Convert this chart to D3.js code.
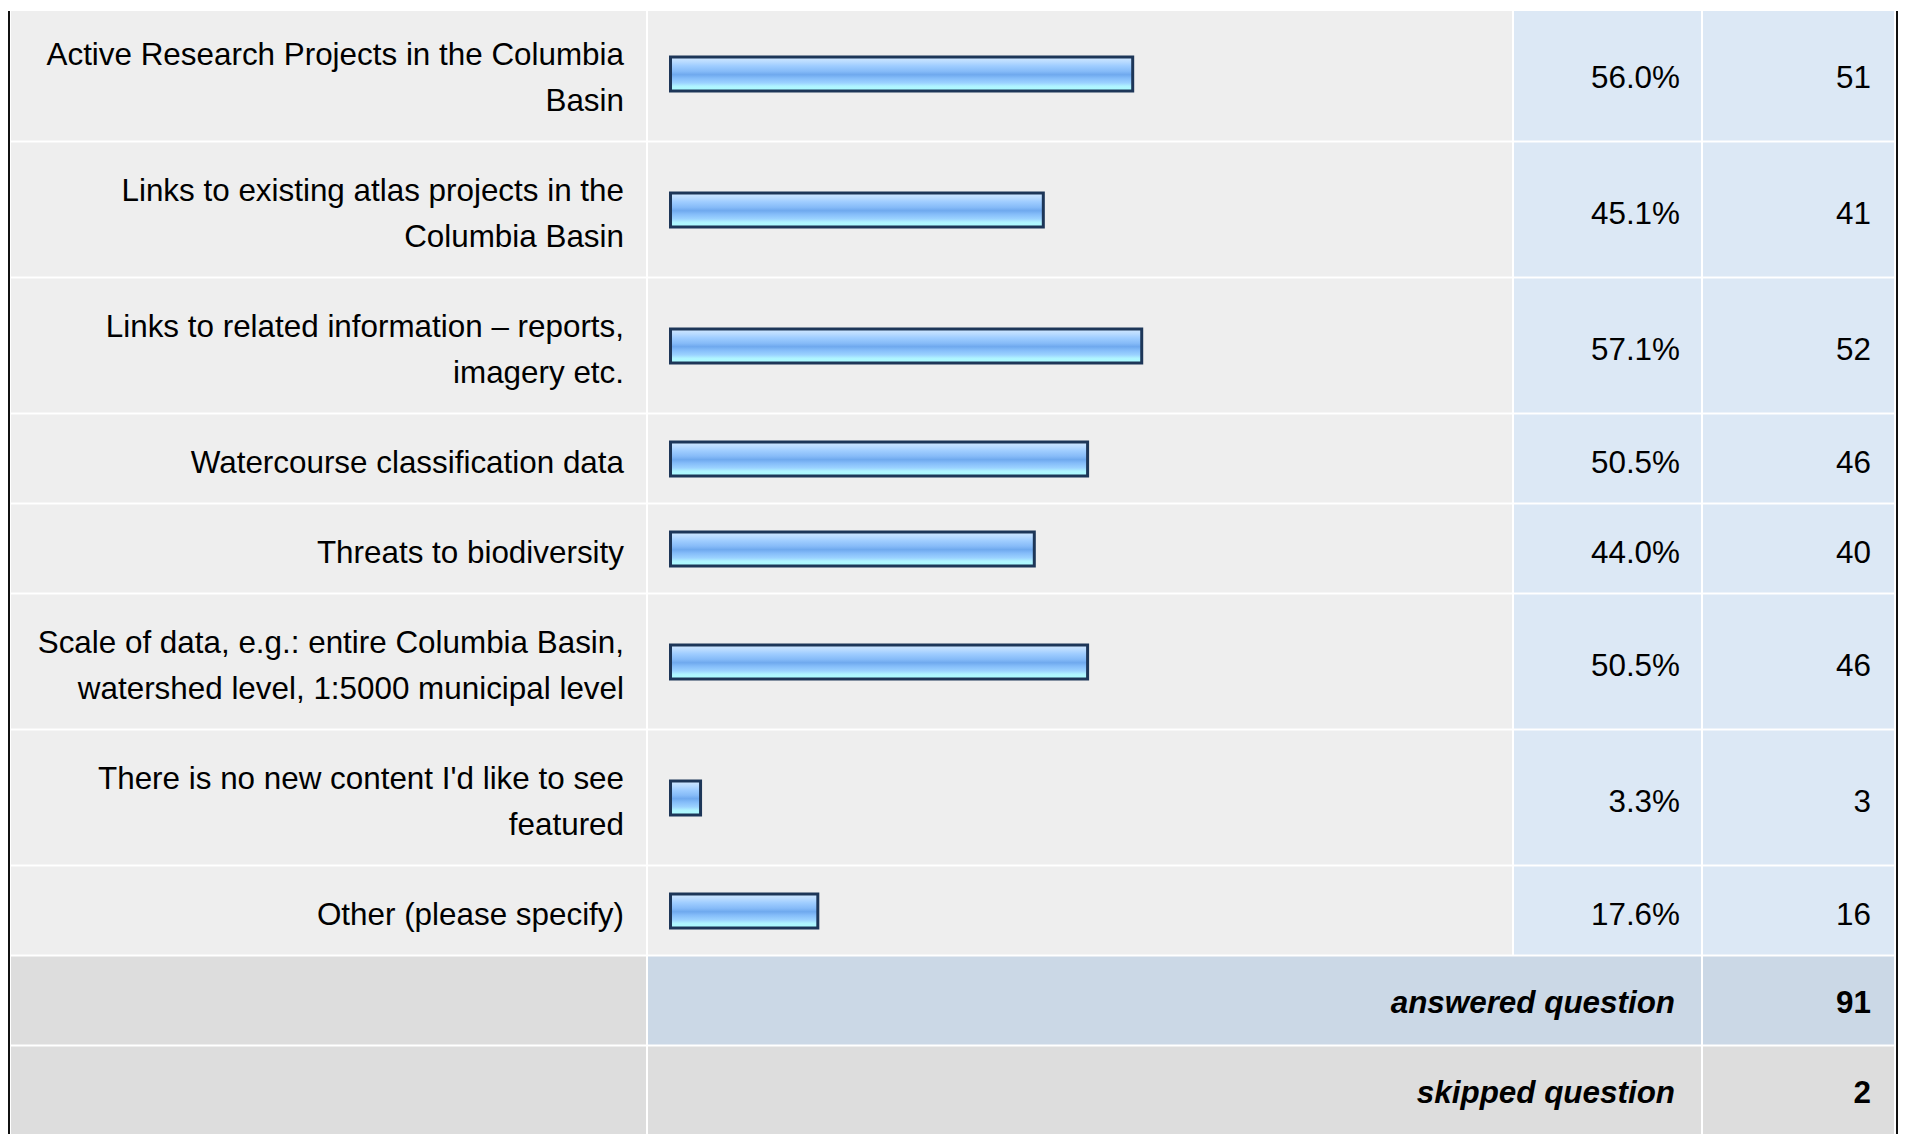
<!DOCTYPE html>
<html>
<head>
<meta charset="utf-8">
<script src="https://cdn.jsdelivr.net/npm/d3@7"></script>
<style>
  body { margin:0; background:#fff; }
  svg { display:block; font-family:"Liberation Sans", Arial, sans-serif; }
</style>
</head>
<body>
<svg id="chart"></svg>
<script>
// survey answers, one entry per row (\n = line break as in the original)
const categories = [
  "Active Research Projects in the Columbia\nBasin",
  "Links to existing atlas projects in the\nColumbia Basin",
  "Links to related information \u2013 reports,\nimagery etc.",
  "Watercourse classification data",
  "Threats to biodiversity",
  "Scale of data, e.g.: entire Columbia Basin,\nwatershed level, 1:5000 municipal level",
  "There is no new content I'd like to see\nfeatured",
  "Other (please specify)"
];
const percents = [56.0, 45.1, 57.1, 50.5, 44.0, 50.5, 3.3, 17.6];
const counts = [51, 41, 52, 46, 40, 46, 3, 16];
const footerLabels = ["answered question", "skipped question"];
const footerCounts = [91, 2];

const W = 1909, H = 1134;
const fontSize = 31.4, lineH = 46;

// column edges
const colLabel = [11, 646], colBar = [648, 1512], colPct = [1514, 1701], colCnt = [1703, 1894];

const svg = d3.select('#chart').attr('width', W).attr('height', H);

// gradient for the glossy bars
const defs = svg.append('defs');
const grad = defs.append('linearGradient').attr('id', 'barGrad')
  .attr('x1', 0).attr('y1', 0).attr('x2', 0).attr('y2', 1);
[[0,'#d2e8ff'],[0.14,'#b9dbff'],[0.26,'#9fcdff'],[0.42,'#86bbf8'],[0.52,'#6fa9ee'],
 [0.62,'#84bcf9'],[0.76,'#9bd2ff'],[0.86,'#b0f4ff'],[1,'#abffff']]
  .forEach(([o,c]) => grad.append('stop').attr('offset', o).attr('stop-color', c));

// row layout
const rows = categories.map((c, i) => ({
  lines: c.split('\n'), pct: percents[i], count: counts[i]
}));
let y = 6.5;
rows.forEach(r => { r.h = 44 + lineH * r.lines.length; r.y = y; y += r.h; });
const footY = y;

const x = d3.scaleLinear().domain([0, 100]).range([6, 826]);

const g = svg.append('g');

// data rows
const rowSel = g.selectAll('.row').data(rows).enter().append('g')
  .attr('class', 'row').attr('transform', d => `translate(0,${d.y})`);

rowSel.append('rect').attr('x', colLabel[0]).attr('width', colLabel[1]-colLabel[0])
  .attr('height', d => d.h - 2).attr('fill', '#eeeeee');
rowSel.append('rect').attr('x', colBar[0]).attr('width', colBar[1]-colBar[0])
  .attr('height', d => d.h - 2).attr('fill', '#eeeeee');
rowSel.append('rect').attr('x', colPct[0]).attr('width', colPct[1]-colPct[0])
  .attr('height', d => d.h - 2).attr('fill', '#dce8f5');
rowSel.append('rect').attr('x', colCnt[0]).attr('width', colCnt[1]-colCnt[0])
  .attr('height', d => d.h - 2).attr('fill', '#dce8f5');

// labels
rowSel.each(function(d) {
  const t = d3.select(this).append('text')
    .attr('text-anchor', 'end').attr('font-size', fontSize).attr('fill', '#000');
  const c = (d.h - 2) / 2 + 3;
  d.lines.forEach((ln, j) => {
    t.append('tspan').attr('x', 624)
      .attr('y', c + (j - (d.lines.length - 1) / 2) * lineH + 11).text(ln);
  });
});

// bars
rowSel.append('rect')
  .attr('x', 670.5).attr('y', d => (d.h - 2) / 2 - 16.5)
  .attr('width', d => x(d.pct) - 3).attr('height', 34)
  .attr('fill', 'url(#barGrad)').attr('stroke', '#1d3658').attr('stroke-width', 3);

rowSel.append('text').attr('x', 1680).attr('y', d => (d.h - 2) / 2 + 14)
  .attr('text-anchor', 'end').attr('font-size', fontSize).attr('fill', '#000')
  .text(d => d.pct.toFixed(1) + '%');
rowSel.append('text').attr('x', 1871).attr('y', d => (d.h - 2) / 2 + 14)
  .attr('text-anchor', 'end').attr('font-size', fontSize).attr('fill', '#000')
  .text(d => d.count);

// footer rows
const foot = footerLabels.map((l, i) => ({ label: l, count: footerCounts[i], y: footY + i * 90, i }));
const fSel = g.selectAll('.foot').data(foot).enter().append('g')
  .attr('class', 'foot').attr('transform', d => `translate(0,${d.y})`);
fSel.append('rect').attr('x', colLabel[0]).attr('width', colLabel[1]-colLabel[0])
  .attr('height', 88).attr('fill', '#dddddd');
fSel.append('rect').attr('x', colBar[0]).attr('width', colPct[1]-colBar[0])
  .attr('height', 88).attr('fill', d => d.i === 0 ? '#cbd8e6' : '#dddddd');
fSel.append('rect').attr('x', colCnt[0]).attr('width', colCnt[1]-colCnt[0])
  .attr('height', 88).attr('fill', d => d.i === 0 ? '#cbd8e6' : '#dddddd');
fSel.append('text').attr('x', 1675).attr('y', 44 + 12)
  .attr('text-anchor', 'end').attr('font-size', fontSize)
  .attr('font-weight', 'bold').attr('font-style', 'italic').attr('fill', '#000')
  .text(d => d.label);
fSel.append('text').attr('x', 1871).attr('y', 44 + 12)
  .attr('text-anchor', 'end').attr('font-size', fontSize)
  .attr('font-weight', 'bold').attr('fill', '#000')
  .text(d => d.count);

// white strip above the table (top row is cut off)
svg.append('rect').attr('x', 0).attr('y', 0).attr('width', W).attr('height', 11).attr('fill', '#fff');

// outer black borders left and right
svg.append('rect').attr('x', 8).attr('y', 11).attr('width', 2).attr('height', H - 11).attr('fill', '#111');
svg.append('rect').attr('x', 1896).attr('y', 11).attr('width', 2).attr('height', H - 11).attr('fill', '#111');
</script>
</body>
</html>
